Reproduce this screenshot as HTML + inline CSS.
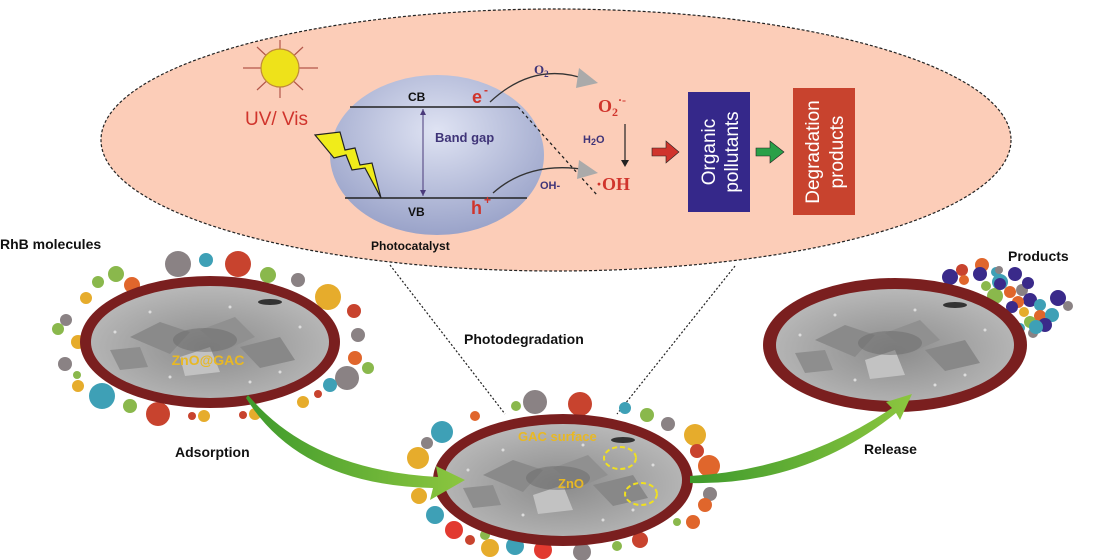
<!DOCTYPE html>
<html><head><meta charset="utf-8"><style>
html,body{margin:0;padding:0;background:#fff;}
svg{display:block;font-family:"Liberation Sans",Arial,sans-serif;}
</style></head><body>
<svg width="1110" height="560" viewBox="0 0 1110 560" xmlns="http://www.w3.org/2000/svg">
<defs>
<radialGradient id="pc" cx="50%" cy="35%" r="65%">
<stop offset="0" stop-color="#dfe3f3"/><stop offset="1" stop-color="#9aa3c9"/>
</radialGradient>
<radialGradient id="sem" cx="50%" cy="55%" r="55%">
<stop offset="0" stop-color="#8c8c8c"/><stop offset="0.6" stop-color="#a6a6a6"/><stop offset="1" stop-color="#b8b8b8"/>
</radialGradient>
<linearGradient id="gr" x1="0" y1="0" x2="1" y2="0">
<stop offset="0" stop-color="#3e9a2c"/><stop offset="1" stop-color="#8cc63f"/>
</linearGradient>
<g id="semg">
<ellipse cx="0" cy="0" rx="119" ry="56" fill="url(#sem)"/>
<path d="M-80,-5 L-50,-20 L-20,-10 L-40,12 Z" fill="#8a8a8a"/>
<path d="M-10,-12 L25,-25 L45,-5 L15,8 Z" fill="#909090"/>
<path d="M-100,8 L-70,5 L-62,25 L-90,28 Z" fill="#8e8e8e"/>
<path d="M30,5 L70,-5 L85,18 L50,26 Z" fill="#888"/>
<path d="M-30,15 L0,5 L10,30 L-25,34 Z" fill="#c2c2c2"/>
<ellipse cx="-5" cy="-2" rx="32" ry="12" fill="#6a6a6a" opacity="0.5"/>
<ellipse cx="60" cy="-40" rx="12" ry="3" fill="#333"/>
<g fill="#ddd"><circle cx="-60" cy="-30" r="1.5"/><circle cx="20" cy="-35" r="1.5"/><circle cx="70" cy="30" r="1.5"/><circle cx="-40" cy="35" r="1.5"/><circle cx="90" cy="-15" r="1.5"/><circle cx="-95" cy="-10" r="1.5"/><circle cx="40" cy="40" r="1.5"/></g>
</g>
</defs>

<ellipse cx="556" cy="140" rx="455" ry="131" fill="#fccdb8" stroke="#222" stroke-width="1.2" stroke-dasharray="3,2"/>

<line x1="390" y1="265" x2="505" y2="414" stroke="#222" stroke-width="1.2" stroke-dasharray="2,2"/>
<line x1="735" y1="266" x2="617" y2="414" stroke="#222" stroke-width="1.2" stroke-dasharray="2,2"/>

<!-- sun -->
<g stroke="#b4574a" stroke-width="1.2">
<line x1="280" y1="40" x2="280" y2="98"/><line x1="243" y1="68" x2="318" y2="68"/>
<line x1="257" y1="47" x2="303" y2="90"/><line x1="303" y1="47" x2="257" y2="90"/>
</g>
<circle cx="280" cy="68" r="19" fill="#eee21a" stroke="#c08a3a" stroke-width="1.2"/>
<text x="245" y="125" font-size="19" fill="#d0342c">UV/ Vis</text>

<!-- photocatalyst -->
<ellipse cx="437" cy="155" rx="107" ry="80" fill="url(#pc)"/>
<path d="M315,135 L340,132 L345,150 L355,148 L360,165 L372,163 L381,198 L365,168 L352,170 L346,155 L334,158 Z" fill="#f0ec1a" stroke="#222" stroke-width="1.2"/>
<line x1="350" y1="107" x2="518" y2="107" stroke="#222" stroke-width="1.5"/>
<line x1="345" y1="198" x2="527" y2="198" stroke="#222" stroke-width="1.5"/>
<line x1="423" y1="109" x2="423" y2="196" stroke="#4a3a7a" stroke-width="1"/>
<path d="M423,109 l-3,6 h6 z M423,196 l-3,-6 h6 z" fill="#4a3a7a"/>
<text x="408" y="101" font-size="12" font-weight="bold" fill="#111">CB</text>
<text x="408" y="216" font-size="12" font-weight="bold" fill="#111">VB</text>
<text x="435" y="142" font-size="13" font-weight="bold" fill="#3f3478">Band gap</text>
<text x="371" y="250" font-size="12" font-weight="bold" fill="#111">Photocatalyst</text>
<text x="472" y="103" font-size="18" font-weight="bold" fill="#d0342c">e</text>
<text x="484" y="94" font-size="12" font-weight="bold" fill="#d0342c">-</text>
<text x="471" y="214" font-size="18" font-weight="bold" fill="#d0342c">h</text>
<text x="484" y="204" font-size="12" font-weight="bold" fill="#d0342c">+</text>
<line x1="518" y1="107" x2="597" y2="195" stroke="#222" stroke-width="1.3" stroke-dasharray="3,3"/>
<path d="M490,102 Q535,60 588,80" fill="none" stroke="#333" stroke-width="1.3"/>
<path d="M579,68 L598,83 L576,88 Z" fill="#aaa"/>
<path d="M493,193 Q530,160 588,170" fill="none" stroke="#333" stroke-width="1.3"/>
<path d="M579,160 L598,173 L577,179 Z" fill="#aaa"/>
<text x="534" y="74" font-size="13" font-weight="bold" font-family="Liberation Serif,serif" fill="#3f3478">O<tspan font-size="9" dy="3">2</tspan></text>
<text x="598" y="112" font-size="18" font-weight="bold" font-family="Liberation Serif,serif" fill="#d0342c">O<tspan font-size="12" dy="4">2</tspan><tspan font-size="12" dy="-12">·-</tspan></text>
<text x="583" y="143" font-size="11" font-weight="bold" fill="#3f3478">H<tspan font-size="9" dy="2">2</tspan><tspan dy="-2">O</tspan></text>
<line x1="625" y1="124" x2="625" y2="162" stroke="#222" stroke-width="1.2"/>
<path d="M621,160 L625,167 L629,160 Z" fill="#222"/>
<text x="540" y="189" font-size="11" font-weight="bold" fill="#3f3478">OH-</text>
<text x="596" y="190" font-size="18" font-weight="bold" font-family="Liberation Serif,serif" fill="#d0342c">·OH</text>

<path d="M652,148 h14 v-7 l13,11 l-13,11 v-7 h-14 z" fill="#d0342c" stroke="#222" stroke-width="0.6"/>
<rect x="688" y="92" width="62" height="120" fill="#35288a"/>
<text transform="translate(715,152) rotate(-90)" text-anchor="middle" font-size="19" fill="#fff">Organic</text>
<text transform="translate(738,152) rotate(-90)" text-anchor="middle" font-size="19" fill="#fff">pollutants</text>
<path d="M756,148 h14 v-7 l14,11 l-14,11 v-7 h-14 z" fill="#2aa048" stroke="#222" stroke-width="0.6"/>
<rect x="793" y="88" width="62" height="127" fill="#c8432e"/>
<text transform="translate(819,152) rotate(-90)" text-anchor="middle" font-size="19" fill="#fff">Degradation</text>
<text transform="translate(843,152) rotate(-90)" text-anchor="middle" font-size="19" fill="#fff">products</text>

<text x="0" y="249" font-size="14" font-weight="bold" fill="#111">RhB molecules</text>
<text x="464" y="344" font-size="14" font-weight="bold" fill="#111">Photodegradation</text>
<text x="175" y="457" font-size="14" font-weight="bold" fill="#111">Adsorption</text>
<text x="864" y="454" font-size="14" font-weight="bold" fill="#111">Release</text>
<text x="1008" y="261" font-size="14" font-weight="bold" fill="#111">Products</text>

<g>
<circle cx="178" cy="264" r="13" fill="#8a8284"/><circle cx="206" cy="260" r="7" fill="#3ea0b6"/><circle cx="238" cy="264" r="13" fill="#c8432e"/>
<circle cx="116" cy="274" r="8" fill="#8ab84c"/><circle cx="98" cy="282" r="6" fill="#8ab84c"/><circle cx="132" cy="285" r="8" fill="#e0662c"/>
<circle cx="268" cy="275" r="8" fill="#8ab84c"/><circle cx="298" cy="280" r="7" fill="#8a8284"/><circle cx="328" cy="297" r="13" fill="#e6ac2c"/>
<circle cx="86" cy="298" r="6" fill="#e6ac2c"/><circle cx="66" cy="320" r="6" fill="#8a8284"/><circle cx="58" cy="329" r="6" fill="#8ab84c"/>
<circle cx="354" cy="311" r="7" fill="#c8432e"/><circle cx="358" cy="335" r="7" fill="#8a8284"/><circle cx="78" cy="342" r="7" fill="#e6ac2c"/>
<circle cx="355" cy="358" r="7" fill="#e0662c"/><circle cx="368" cy="368" r="6" fill="#8ab84c"/><circle cx="347" cy="378" r="12" fill="#8a8284"/>
<circle cx="65" cy="364" r="7" fill="#8a8284"/><circle cx="77" cy="375" r="4" fill="#8ab84c"/><circle cx="78" cy="386" r="6" fill="#e6ac2c"/>
<circle cx="330" cy="385" r="7" fill="#3ea0b6"/><circle cx="318" cy="394" r="4" fill="#c8432e"/><circle cx="303" cy="402" r="6" fill="#e6ac2c"/>
<circle cx="102" cy="396" r="13" fill="#3ea0b6"/><circle cx="130" cy="406" r="7" fill="#8ab84c"/><circle cx="158" cy="414" r="12" fill="#c8432e"/>
<circle cx="192" cy="416" r="4" fill="#c8432e"/><circle cx="204" cy="416" r="6" fill="#e6ac2c"/><circle cx="243" cy="415" r="4" fill="#c8432e"/><circle cx="255" cy="414" r="6" fill="#e6ac2c"/>
</g>
<g>
<circle cx="535" cy="402" r="12" fill="#8a8284"/><circle cx="580" cy="404" r="12" fill="#c8432e"/><circle cx="516" cy="406" r="5" fill="#8ab84c"/>
<circle cx="625" cy="408" r="6" fill="#3ea0b6"/><circle cx="647" cy="415" r="7" fill="#8ab84c"/><circle cx="475" cy="416" r="5" fill="#e0662c"/>
<circle cx="442" cy="432" r="11" fill="#3ea0b6"/><circle cx="427" cy="443" r="6" fill="#8a8284"/><circle cx="668" cy="424" r="7" fill="#8a8284"/>
<circle cx="695" cy="435" r="11" fill="#e6ac2c"/><circle cx="697" cy="451" r="7" fill="#c8432e"/><circle cx="418" cy="458" r="11" fill="#e6ac2c"/>
<circle cx="709" cy="466" r="11" fill="#e0662c"/><circle cx="419" cy="496" r="8" fill="#e6ac2c"/><circle cx="710" cy="494" r="7" fill="#8a8284"/>
<circle cx="705" cy="505" r="7" fill="#e0662c"/><circle cx="435" cy="515" r="9" fill="#3ea0b6"/><circle cx="454" cy="530" r="9" fill="#e23a30"/>
<circle cx="693" cy="522" r="7" fill="#e0662c"/><circle cx="677" cy="522" r="4" fill="#8ab84c"/><circle cx="470" cy="540" r="5" fill="#c8432e"/>
<circle cx="490" cy="548" r="9" fill="#e6ac2c"/><circle cx="515" cy="546" r="9" fill="#3ea0b6"/><circle cx="543" cy="550" r="9" fill="#e23a30"/>
<circle cx="582" cy="552" r="9" fill="#8a8284"/><circle cx="617" cy="546" r="5" fill="#8ab84c"/><circle cx="640" cy="540" r="8" fill="#c8432e"/><circle cx="485" cy="535" r="5" fill="#8ab84c"/>
</g>
<g>
<circle cx="962" cy="270" r="6" fill="#c8432e"/><circle cx="950" cy="277" r="8" fill="#3a2a8a"/><circle cx="964" cy="280" r="5" fill="#e0662c"/>
<circle cx="982" cy="265" r="7" fill="#e0662c"/><circle cx="980" cy="274" r="7" fill="#3a2a8a"/><circle cx="996" cy="272" r="5" fill="#3ea0b6"/>
<circle cx="1015" cy="274" r="7" fill="#3a2a8a"/><circle cx="986" cy="286" r="5" fill="#8ab84c"/><circle cx="1000" cy="282" r="8" fill="#3ea0b6"/>
<circle cx="1022" cy="290" r="6" fill="#8a8284"/><circle cx="1030" cy="300" r="7" fill="#3a2a8a"/><circle cx="1010" cy="292" r="6" fill="#e0662c"/>
<circle cx="995" cy="296" r="8" fill="#8ab84c"/><circle cx="1018" cy="302" r="6" fill="#e0662c"/><circle cx="1040" cy="305" r="6" fill="#3ea0b6"/>
<circle cx="1058" cy="298" r="8" fill="#3a2a8a"/><circle cx="1068" cy="306" r="5" fill="#8a8284"/><circle cx="1012" cy="307" r="6" fill="#3a2a8a"/>
<circle cx="1024" cy="312" r="5" fill="#e6ac2c"/><circle cx="1040" cy="316" r="6" fill="#e0662c"/><circle cx="1052" cy="315" r="7" fill="#3ea0b6"/>
<circle cx="1008" cy="320" r="6" fill="#e0662c"/><circle cx="1030" cy="322" r="6" fill="#8ab84c"/><circle cx="1045" cy="325" r="7" fill="#3a2a8a"/>
<circle cx="1020" cy="328" r="5" fill="#3ea0b6"/><circle cx="1033" cy="333" r="5" fill="#8a8284"/><circle cx="1036" cy="327" r="7" fill="#3ea0b6"/><circle cx="1014" cy="335" r="4" fill="#8ab84c"/>
<circle cx="999" cy="270" r="4" fill="#8a8284"/><circle cx="1000" cy="284" r="6" fill="#3a2a8a"/><circle cx="1028" cy="283" r="6" fill="#3a2a8a"/>
</g>

<g transform="translate(210,342)">
<ellipse rx="130" ry="66" fill="#7a1f1f"/><use href="#semg"/>
<text x="-2" y="23" text-anchor="middle" font-size="14" font-weight="bold" fill="#e8b824">ZnO@GAC</text>
</g>
<g transform="translate(563,480)">
<ellipse rx="130" ry="66" fill="#7a1f1f"/><use href="#semg"/>
<text x="-45" y="-39" font-size="13" font-weight="bold" fill="#e8b824">GAC surface</text>
<text x="-5" y="8" font-size="13" font-weight="bold" fill="#e8b824">ZnO</text>
<ellipse cx="57" cy="-22" rx="16" ry="11" fill="none" stroke="#f0e020" stroke-width="2" stroke-dasharray="5,3"/>
<ellipse cx="78" cy="14" rx="16" ry="11" fill="none" stroke="#f0e020" stroke-width="2" stroke-dasharray="5,3"/>
</g>
<g transform="translate(895,345)">
<ellipse rx="132" ry="67" fill="#7a1f1f"/><use href="#semg"/>
</g>

<path d="M248,395 Q310,470 438,477 L436,466 L465,480 L430,500 L433,488 Q300,485 246,398 Z" fill="url(#gr)"/>
<path d="M690,476 Q800,470 892,408 L886,402 L912,394 L900,420 L896,413 Q805,486 690,483 Z" fill="url(#gr)"/>
</svg>
</body></html>
